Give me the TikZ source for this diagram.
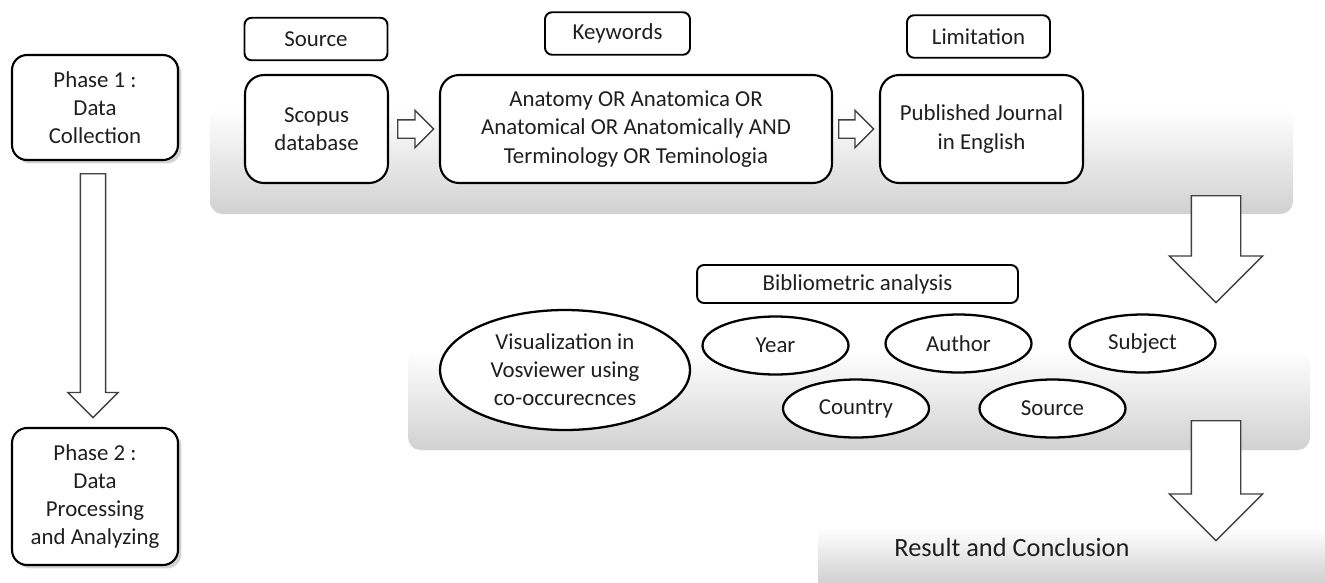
\documentclass[tikz,border=0pt]{standalone}
\usepackage{fontspec}
\setmainfont{Carlito}
\usetikzlibrary{shapes.geometric,shapes.arrows,shadows,positioning}
\tikzset{
  phase/.style={draw,rounded corners=0.3cm,line width=1.2pt,align=center,fill=white,
    minimum width=3.32cm,minimum height=2.1cm,
    drop shadow={shadow xshift=0.07cm,shadow yshift=-0.07cm,opacity=0.35}},
  block/.style={draw,rounded corners=0.38cm,line width=1.2pt,align=center,fill=white,minimum height=2.16cm},
  labelbox/.style={draw,rounded corners=4pt,line width=1.1pt,fill=white,minimum width=2.86cm,minimum height=0.85cm},
  oval/.style={draw,ellipse,line width=1.3pt,inner sep=0pt,align=center,fill=white,minimum width=2.92cm,minimum height=1.16cm},
  band/.style={top color=white,bottom color=black!18,rounded corners=0.25cm},
  hollow/.style={single arrow,draw=black!75,fill=white,line width=0.8pt,inner xsep=0pt,anchor=tail},
  bigdown/.style={hollow,rotate=-90,inner ysep=0.48cm,minimum width=1.84cm,single arrow head extend=0.44cm}
}
\begin{document}
\begin{tikzpicture}[x=0.02cm,y=-0.02cm,font=\fontsize{13}{16}\selectfont,text=black!88]
  \useasboundingbox (0,0) rectangle (1325,582);

  % shaded bands
  \shade[band] (210,108) rectangle (1293,214);
  \shade[band] (408,350) rectangle (1310,450);
  \shade[top color=white,bottom color=black!18] (818,528) rectangle (1325,582);

  % phases
  \node[phase] (ph1) at (95,107.5) {Phase 1 :\\Data\\Collection};
  \node[phase,minimum height=2.74cm] (ph2) at (95,496.5) {Phase 2 :\\Data\\Processing\\and Analyzing};
  \node[hollow,rotate=-90,inner ysep=0.24cm,minimum height=4.88cm,minimum width=0.98cm,
    single arrow head extend=0.25cm] (down0) at (93,173) {};

  % data collection
  \node[labelbox] (srclbl) at (316,39) {Source};
  \node[labelbox,minimum width=2.9cm] (kwlbl) at (617.5,33.5) {Keywords};
  \node[labelbox] (limlbl) at (978.5,36.5) {Limitation};

  \node[block,minimum width=2.86cm] (scopus) at (316.5,129) {Scopus\\database};
  \node[block,minimum width=7.84cm] (kw) at (636,129) {Anatomy OR Anatomica OR\\Anatomical OR Anatomically AND\\Terminology OR Teminologia};
  \node[block,minimum width=4.06cm] (lim) at (981.5,129) {Published Journal\\in English};

  \node[hollow,inner ysep=0.17cm,minimum height=0.72cm,minimum width=0.72cm,
    single arrow head extend=0.19cm] (right1) at (397,129) {};
  \node[hollow,inner ysep=0.17cm,minimum height=0.7cm,minimum width=0.72cm,
    single arrow head extend=0.19cm] (right2) at (838,129) {};

  \node[bigdown,minimum height=2.14cm] (down1) at (1216,195) {};

  % data processing
  \node[labelbox,minimum width=6.42cm,minimum height=0.76cm] (biblio) at (857.5,284) {Bibliometric analysis};
  \node[oval,minimum width=5cm,minimum height=2.4cm] (vis) at (565,370) {Visualization in\\Vosviewer using\\co-occurecnces};
  \node[oval] (year) at (775.5,345.5) {Year};
  \node[oval] (author) at (958.5,343.5) {Author};
  \node[oval] (subject) at (1142.5,343.5) {Subject};
  \node[oval] (country) at (856,408.5) {Country};
  \node[oval] (source) at (1052.5,408.5) {Source};

  \node[bigdown,minimum height=2.4cm] (down2) at (1216,420) {};

  \node[font=\fontsize{15}{18}\selectfont] (result) at (1012,547) {Result and Conclusion};
\end{tikzpicture}
\end{document}
